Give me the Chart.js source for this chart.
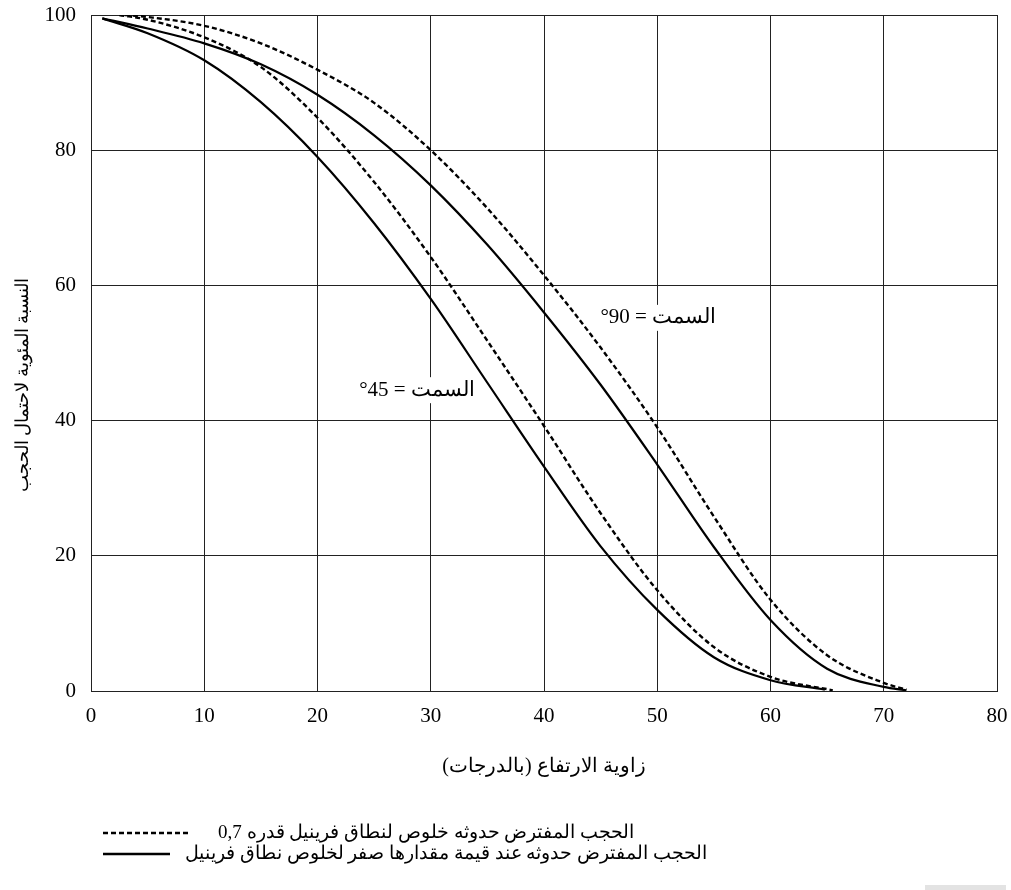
<!DOCTYPE html>
<html>
<head>
<meta charset="utf-8">
<script src="https://cdn.jsdelivr.net/npm/chart.js@4.4.1/dist/chart.umd.min.js"></script>
<style>
  html, body { margin: 0; padding: 0; background: #fff; }
  #wrap { position: relative; width: 1011px; height: 890px; }
  #chart { position: absolute; left: 0; top: 0; }
  #mark { position: absolute; left: 925px; top: 885px; width: 81px; height: 5px; background: #e3e3e3; }
</style>
</head>
<body>
<div id="wrap">
  <canvas id="chart" width="1011" height="890"></canvas>
  <div id="mark"></div>
</div>
<script>
// ---- Data ----
// Azimuth 45°, zero Fresnel clearance (solid)
const az45SolidX = [1, 5, 10, 15, 20, 25, 30, 35, 40, 45, 50, 55, 60, 64.8];
const az45SolidY = [99.5, 97.3, 93.3, 87.1, 79, 69.2, 58, 45.6, 33.2, 21.4, 12, 5, 1.6, 0.2];
// Azimuth 45°, 0.7 Fresnel clearance (dashed)
const az45DashX = [2.5, 5, 10, 15, 20, 25, 30, 35, 40, 45, 50, 55, 60, 65.5];
const az45DashY = [100, 99.3, 96.7, 92.3, 84.8, 75.3, 64.2, 51.8, 39.2, 26.3, 14.9, 6.5, 2.1, 0.1];
// Azimuth 90°, zero Fresnel clearance (solid)
const az90SolidX = [1, 5, 10, 15, 20, 25, 30, 35, 40, 45, 50, 55, 60, 65, 70, 72];
const az90SolidY = [99.5, 98, 95.8, 92.7, 88.2, 82.2, 74.8, 66, 56, 45.3, 33.5, 21.3, 10.5, 3.3, 0.6, 0.1];
// Azimuth 90°, 0.7 Fresnel clearance (dashed)
const az90DashX = [3, 5, 10, 15, 20, 25, 30, 35, 40, 45, 50, 55, 60, 65, 70, 72];
const az90DashY = [100, 99.7, 98.4, 95.8, 91.9, 87, 80, 71.4, 61.5, 50.8, 39, 25.8, 13.5, 5.3, 1.2, 0.2];

const xTicks = [0, 10, 20, 30, 40, 50, 60, 70, 80];
const yTicks = [0, 20, 40, 60, 80, 100];

const xTitle = 'زاوية الارتفاع (بالدرجات)';
const yTitle = 'النسبة المئوية لاحتمال الحجب';
const curveLabels = ['السمت = 90°', 'السمت = 45°'];
const legendTexts = [
  'الحجب المفترض حدوثه خلوص لنطاق فرينيل قدره 0,7',
  'الحجب المفترض حدوثه عند قيمة مقدارها صفر لخلوص نطاق فرينيل'
];

// ---- Build ----
const pts = (xs, ys) => xs.map((x, i) => ({ x: x, y: ys[i] }));
const FONT = "'Liberation Serif', 'DejaVu Serif', 'Times New Roman', serif";

const solid = { borderColor: '#000', borderWidth: 2.2, pointRadius: 0, fill: false, cubicInterpolationMode: 'monotone' };
const dashed = Object.assign({}, solid, { borderDash: [5, 3], borderWidth: 2.4 });

const overlay = {
  id: 'overlay',
  afterDatasetsDraw(chart) {
    const ctx = chart.ctx;
    const xs = chart.scales.x, ys = chart.scales.y;
    ctx.save();
    ctx.font = '21px ' + FONT;
    ctx.direction = 'rtl';
    ctx.textBaseline = 'middle';
    ctx.textAlign = 'right';
    const labelAnchors = [[55.2, 55.2], [33.9, 44.5]];
    curveLabels.forEach((t, i) => {
      const px = xs.getPixelForValue(labelAnchors[i][0]);
      const py = ys.getPixelForValue(labelAnchors[i][1]);
      const w = ctx.measureText(t).width;
      ctx.fillStyle = '#fff';
      ctx.fillRect(px - w - 4, py - 13, w + 8, 26);
      ctx.fillStyle = '#000';
      ctx.fillText(t, px, py);
    });
    ctx.restore();
  },
  afterDraw(chart) {
    const ctx = chart.ctx;
    const area = chart.chartArea;
    ctx.save();
    ctx.fillStyle = '#000';
    ctx.direction = 'rtl';
    ctx.font = '20px ' + FONT;
    ctx.textAlign = 'center';
    ctx.textBaseline = 'middle';
    ctx.fillText(xTitle, (area.left + area.right) / 2, 767);
    ctx.save();
    ctx.translate(23, 385);
    ctx.rotate(-Math.PI / 2);
    ctx.font = '18px ' + FONT;
    ctx.fillText(yTitle, 0, 0);
    ctx.restore();
    ctx.font = '19px ' + FONT;
    ctx.textAlign = 'left';
    ctx.strokeStyle = '#000';
    ctx.lineWidth = 2.4;
    ctx.setLineDash([5, 3]);
    ctx.beginPath(); ctx.moveTo(103, 833); ctx.lineTo(190, 833); ctx.stroke();
    ctx.fillText(legendTexts[0], 218, 833);
    ctx.setLineDash([]);
    ctx.beginPath(); ctx.moveTo(103, 854); ctx.lineTo(170, 854); ctx.stroke();
    ctx.fillText(legendTexts[1], 185, 854);
    ctx.restore();
  }
};

new Chart(document.getElementById('chart'), {
  type: 'line',
  data: {
    datasets: [
      Object.assign({ label: 'az45-solid', data: pts(az45SolidX, az45SolidY) }, solid),
      Object.assign({ label: 'az45-dash', data: pts(az45DashX, az45DashY) }, dashed),
      Object.assign({ label: 'az90-solid', data: pts(az90SolidX, az90SolidY) }, solid),
      Object.assign({ label: 'az90-dash', data: pts(az90DashX, az90DashY) }, dashed)
    ]
  },
  options: {
    responsive: false,
    animation: false,
    layout: { padding: { top: 15, right: 14, left: 0, bottom: 0 } },
    plugins: { legend: { display: false }, tooltip: { enabled: false }, title: { display: false } },
    scales: {
      x: {
        type: 'linear', min: 0, max: 80,
        afterFit(s) { s.height = 199; s.paddingLeft = 0; s.paddingRight = 0; },
        afterBuildTicks(s) { s.ticks = xTicks.map(v => ({ value: v })); },
        grid: { color: '#222', lineWidth: 1, drawTicks: false },
        border: { color: '#222', width: 1 },
        ticks: { color: '#000', font: { family: FONT, size: 21 }, padding: 13, maxRotation: 0 }
      },
      y: {
        type: 'linear', min: 0, max: 100,
        afterFit(s) { s.width = 91; s.paddingTop = 0; s.paddingBottom = 0; },
        afterBuildTicks(s) { s.ticks = yTicks.map(v => ({ value: v })); },
        grid: { color: '#222', lineWidth: 1, drawTicks: false },
        border: { color: '#222', width: 1 },
        ticks: { color: '#000', font: { family: FONT, size: 21 }, padding: 15 }
      }
    }
  },
  plugins: [overlay]
});
</script>
</body>
</html>
